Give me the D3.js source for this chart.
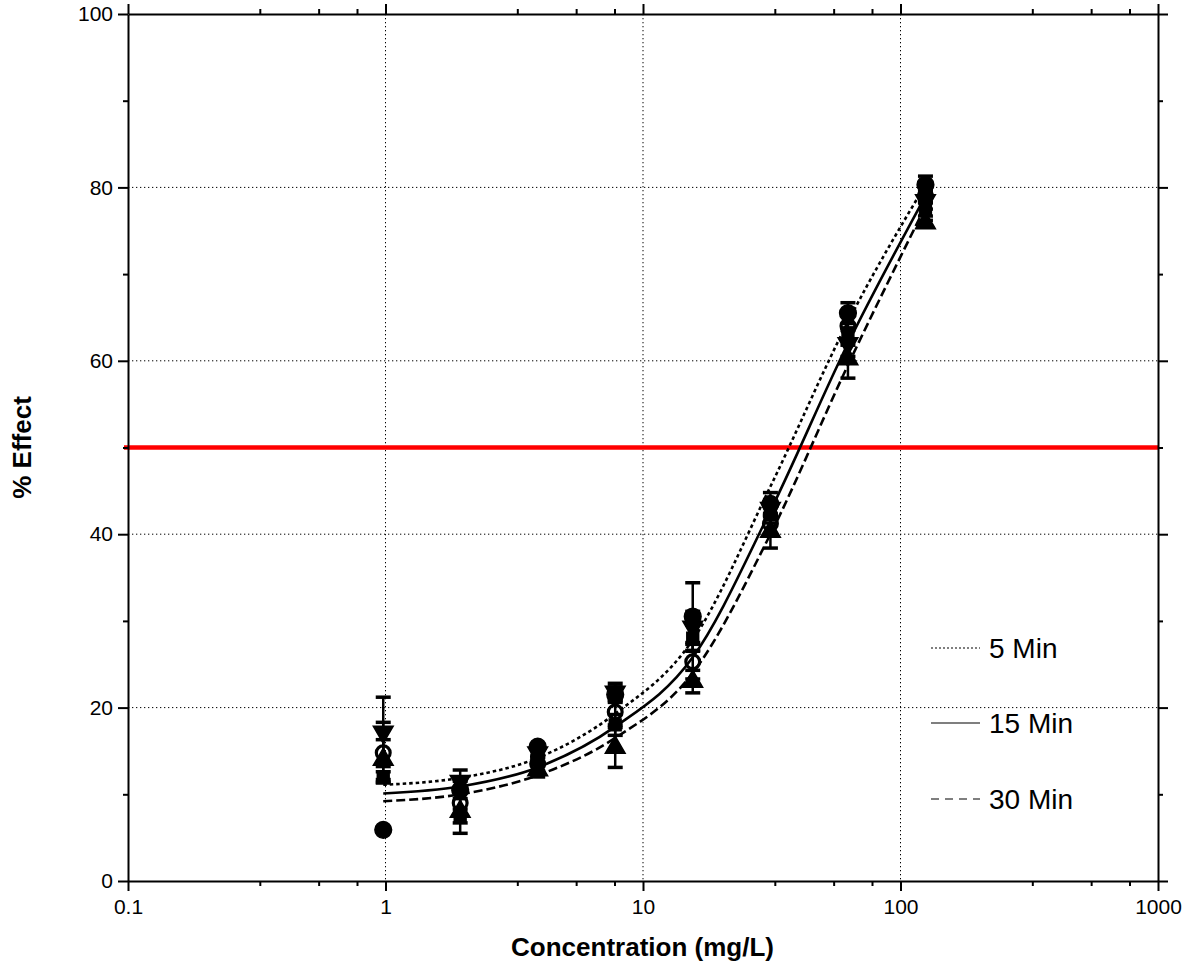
<!DOCTYPE html>
<html><head><meta charset="utf-8">
<script src="https://cdn.jsdelivr.net/npm/d3@7"></script>
<style>
html,body{margin:0;padding:0;background:#fff;}
text{font-family:Arial,"Liberation Sans",sans-serif;fill:#000;}
</style></head>
<body><svg id="c" width="1193" height="968"></svg>
<script>
// ---------- data ----------
const concentrations = [0.98, 1.95, 3.9, 7.8, 15.6, 31.25, 62.5, 125];
// marker series (mean values) and SDs
const filledCircle   = [5.9, 10.5, 15.5, 21.5, 30.5, 43.5, 65.5, 80.3];
const filledCircleSD = [0.3, 1.0, 0.3, 0.9, 3.9, 1.3, 1.2, 1.0];
const openCircle     = [14.8, 9.0, 13.5, 19.5, 25.3, 41.2, 64.0, 79.0];
const openCircleSD   = [3.5, 1.5, 0.8, 1.5, 2.0, 1.2, 1.5, 0.8];
const triDown        = [17.2, 11.5, 14.8, 21.8, 29.3, 43.0, 62.0, 78.5];
const triDownSD      = [4.0, 1.3, 0.6, 1.0, 1.8, 1.0, 1.5, 1.0];
const triUp          = [14.0, 8.0, 12.8, 15.4, 23.0, 40.3, 60.2, 75.9];
const triUpSD        = [2.3, 2.5, 0.8, 2.3, 1.3, 1.9, 2.2, 0.3];
const square         = [12.0, 7.5, 14.0, 18.0, 28.0, 42.3, 62.8, 77.5];
const squareSD       = [0.6, 0.8, 0.5, 1.2, 1.5, 1.0, 1.0, 0.8];
// fitted curves
const curveX      = [0.98, 1.95, 3.9, 7.8, 15.6, 31.25, 62.5, 125];
const curve5Min   = [11.1, 11.9, 14.2, 19.3, 27.8, 45.5, 64.5, 80.3];
const curve15Min  = [10.1, 10.9, 13.1, 17.8, 25.8, 42.7, 62.0, 79.0];
const curve30Min  = [9.2, 10.0, 12.2, 16.5, 24.0, 40.0, 59.5, 77.8];
const legendLabels = ["5 Min", "15 Min", "30 Min"];
const xTickValues = [0.1, 1, 10, 100, 1000];
const xTickLabels = ["0.1", "1", "10", "100", "1000"];
const xMinorFactors = [3.25, 5.5, 7.75];
const yTickValues = [0, 20, 40, 60, 80, 100];
const yMinorValues = [10, 30, 50, 70, 90];
const gridX = [1, 10, 100];
const gridY = [20, 40, 60, 80];
const refLine = 50;
const xTitle = "Concentration (mg/L)";
const yTitle = "% Effect";

// ---------- layout ----------
const L = 128, R = 1158, T = 14, B = 881;
const svg = d3.select("#c");
const x = d3.scaleLog().domain([0.1, 1000]).range([L, R]);
const y = d3.scaleLinear().domain([0, 100]).range([B, T]);

// grid
const g = svg.append("g");
g.selectAll(".gx").data(gridX).join("line")
  .attr("x1", d => x(d)).attr("x2", d => x(d)).attr("y1", T).attr("y2", B)
  .attr("stroke", "#000").attr("stroke-width", 1).attr("stroke-dasharray", "1.3,2.7");
g.selectAll(".gy").data(gridY).join("line")
  .attr("y1", d => y(d)).attr("y2", d => y(d)).attr("x1", L).attr("x2", R)
  .attr("stroke", "#000").attr("stroke-width", 1).attr("stroke-dasharray", "1.3,2.7");

// red reference line
svg.append("line").attr("x1", L - 4).attr("x2", R).attr("y1", y(refLine)).attr("y2", y(refLine))
  .attr("stroke", "#ff0000").attr("stroke-width", 4.5);

// minor x ticks
const minorX = [];
[0.1, 1, 10, 100].forEach(d => xMinorFactors.forEach(f => minorX.push(d * f)));

// axes
const fmtX = d => xTickLabels[xTickValues.indexOf(d)] || "";
function styleAxis(sel) {
  sel.select(".domain").attr("stroke-width", 2);
  sel.selectAll(".tick line").attr("stroke-width", 2);
  sel.selectAll("text").style("font-size", "21px").style("font-family", "Arial, 'Liberation Sans', sans-serif");
}
const ax = svg.append("g").attr("transform", `translate(0,${B})`)
  .call(d3.axisBottom(x).tickValues(xTickValues).tickFormat(fmtX).tickSize(10).tickSizeOuter(0).tickPadding(8));
styleAxis(ax);
const axm = svg.append("g").attr("transform", `translate(0,${B})`)
  .call(d3.axisBottom(x).tickValues(minorX).tickFormat("").tickSize(5).tickSizeOuter(0));
styleAxis(axm); axm.select(".domain").remove();
const at = svg.append("g").attr("transform", `translate(0,${T})`)
  .call(d3.axisTop(x).tickValues(xTickValues).tickFormat("").tickSize(10).tickSizeOuter(0));
styleAxis(at);
const atm = svg.append("g").attr("transform", `translate(0,${T})`)
  .call(d3.axisTop(x).tickValues(minorX).tickFormat("").tickSize(5).tickSizeOuter(0));
styleAxis(atm); atm.select(".domain").remove();

const ay = svg.append("g").attr("transform", `translate(${L},0)`)
  .call(d3.axisLeft(y).tickValues(yTickValues).tickFormat(d3.format("d")).tickSize(10).tickSizeOuter(0).tickPadding(5));
styleAxis(ay);
const aym = svg.append("g").attr("transform", `translate(${L},0)`)
  .call(d3.axisLeft(y).tickValues(yMinorValues).tickFormat("").tickSize(5).tickSizeOuter(0));
styleAxis(aym); aym.select(".domain").remove();
const ar = svg.append("g").attr("transform", `translate(${R},0)`)
  .call(d3.axisRight(y).tickValues(yTickValues).tickFormat("").tickSize(10).tickSizeOuter(0));
styleAxis(ar);
const arm = svg.append("g").attr("transform", `translate(${R},0)`)
  .call(d3.axisRight(y).tickValues(yMinorValues).tickFormat("").tickSize(5).tickSizeOuter(0));
styleAxis(arm); arm.select(".domain").remove();

// axis titles
svg.append("text").attr("x", (L + R) / 2 - 0.5).attr("y", 956).attr("text-anchor", "middle")
  .style("font-size", "26px").style("font-weight", "bold").text(xTitle);
svg.append("text").attr("transform", `translate(31,${(T + B) / 2}) rotate(-90)`).attr("text-anchor", "middle")
  .style("font-size", "26px").style("font-weight", "bold").text(yTitle);

// curves
const line = d3.line().x(d => x(d[0])).y(d => y(d[1])).curve(d3.curveMonotoneX);
const curves = [
  {vals: curve5Min, dash: "3.5,3"},
  {vals: curve15Min, dash: null},
  {vals: curve30Min, dash: "9,4"}
];
curves.forEach(c => {
  svg.append("path").datum(curveX.map((cx, i) => [cx, c.vals[i]]))
    .attr("d", line).attr("fill", "none").attr("stroke", "#000").attr("stroke-width", 2.6)
    .attr("stroke-dasharray", c.dash);
});

// marker series
const series = [
  {vals: filledCircle, sd: filledCircleSD, sym: d3.symbolCircle, fill: "#000", size: 220},
  {vals: openCircle, sd: openCircleSD, sym: d3.symbolCircle, fill: "none", size: 150},
  {vals: triDown, sd: triDownSD, sym: d3.symbolTriangle, fill: "#000", size: 170, rot: 180},
  {vals: triUp, sd: triUpSD, sym: d3.symbolTriangle, fill: "#000", size: 170, rot: 0},
  {vals: square, sd: squareSD, sym: d3.symbolSquare, fill: "#000", size: 140}
];
series.forEach(s => {
  const pts = concentrations.map((c, i) => ({c, v: s.vals[i], e: s.sd[i]}));
  const eg = svg.append("g");
  eg.selectAll("line.v").data(pts).join("line")
    .attr("x1", d => x(d.c)).attr("x2", d => x(d.c))
    .attr("y1", d => y(d.v - d.e)).attr("y2", d => y(d.v + d.e))
    .attr("stroke", "#000").attr("stroke-width", 2.5);
  eg.selectAll("line.t").data(pts).join("line")
    .attr("x1", d => x(d.c) - 7.5).attr("x2", d => x(d.c) + 7.5)
    .attr("y1", d => y(d.v + d.e)).attr("y2", d => y(d.v + d.e))
    .attr("stroke", "#000").attr("stroke-width", 3.5);
  eg.selectAll("line.b").data(pts).join("line")
    .attr("x1", d => x(d.c) - 7.5).attr("x2", d => x(d.c) + 7.5)
    .attr("y1", d => y(d.v - d.e)).attr("y2", d => y(d.v - d.e))
    .attr("stroke", "#000").attr("stroke-width", 3.5);
  svg.append("g").selectAll("path").data(pts).join("path")
    .attr("d", d3.symbol().type(s.sym).size(s.size))
    .attr("transform", d => `translate(${x(d.c)},${y(d.v)}) rotate(${s.rot || 0})`)
    .attr("fill", s.fill).attr("stroke", "#000").attr("stroke-width", s.fill === "none" ? 3.2 : 1.5);
});

// legend
const legY = [648, 723, 799];
const legDash = ["2,2", null, "8,6"];
legendLabels.forEach((lab, i) => {
  svg.append("line").attr("x1", 931).attr("x2", 980).attr("y1", legY[i]).attr("y2", legY[i])
    .attr("stroke", "#000").attr("stroke-width", 1.2).attr("stroke-dasharray", legDash[i]);
  svg.append("text").attr("x", 989).attr("y", legY[i] + 10).style("font-size", "28px").text(lab);
});
</script></body></html>
